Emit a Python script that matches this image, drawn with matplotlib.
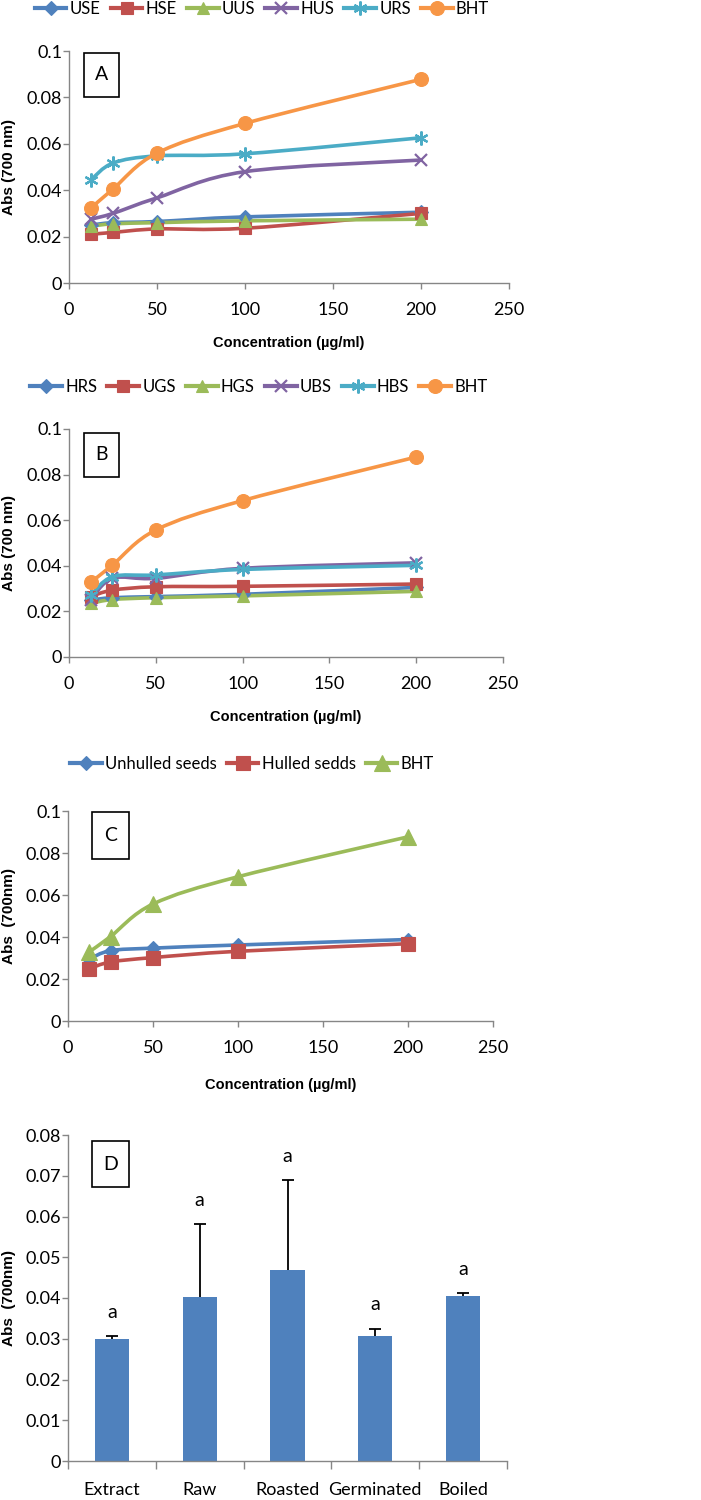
import numpy as np
import matplotlib
matplotlib.use('Agg')
import matplotlib.pyplot as plt
from matplotlib.path import Path
from matplotlib.patches import PathPatch, Rectangle
from matplotlib.lines import Line2D

# ---- data ----
conc = [12.5, 25, 50, 100, 200]

# panel A
use = [0.0250, 0.0260, 0.0265, 0.0285, 0.0305]
hse = [0.0210, 0.0218, 0.0233, 0.0236, 0.0300]
uus = [0.0245, 0.0255, 0.0260, 0.0268, 0.0275]
hus = [0.0275, 0.0300, 0.0367, 0.0480, 0.0530]
urs = [0.0445, 0.0517, 0.0548, 0.0557, 0.0626]
bht = [0.0323, 0.0405, 0.0560, 0.0688, 0.0878]

# panel B
hrs = [0.0250, 0.0260, 0.0265, 0.0275, 0.0305]
ugs = [0.0265, 0.0293, 0.0308, 0.0310, 0.0320]
hgs = [0.0235, 0.0252, 0.0260, 0.0268, 0.0288]
ubs = [0.0250, 0.0345, 0.0345, 0.0389, 0.0413]
hbs = [0.0270, 0.0352, 0.0360, 0.0384, 0.0402]
bht_b = [0.0327, 0.0403, 0.0557, 0.0686, 0.0877]

# panel C
unhulled = [0.0295, 0.0335, 0.0347, 0.0362, 0.0388]
hulled = [0.0249, 0.0281, 0.0302, 0.0332, 0.0368]
bht_c = [0.0329, 0.0402, 0.0557, 0.0687, 0.0877]

# panel D
treatments = ['Extract', 'Raw', 'Roasted', 'Germinated', 'Boiled']
means = [0.0299, 0.0402, 0.0469, 0.0307, 0.0404]
errs = [0.0008, 0.0180, 0.0221, 0.0018, 0.0008]
letters = ['a', 'a', 'a', 'a', 'a']

# ---- style ----
W, H = 701, 1500
BLUE, RED, GREEN, PURPLE, AQUA, ORANGE = '#4F81BD', '#C0504D', '#9BBB59', '#8064A2', '#4BACC6', '#F79646'
NARROW = ['Liberation Sans Narrow', 'Lato', 'DejaVu Sans']
BOLDF = ['Liberation Sans', 'DejaVu Sans']
AXC = '#868686'
ASTER = (6, 2, 0)

fig = plt.figure(figsize=(W / 100, H / 100), dpi=100)


def px_axes(x0, x1, ytop, ybot):
    return fig.add_axes([x0 / W, 1 - ybot / H, (x1 - x0) / W, (ybot - ytop) / H])


def smooth(ax, x, y, color, lw=2.6):
    # excel style smoothed line (bezier through the points)
    n = len(x)
    verts = [(x[0], y[0])]
    codes = [Path.MOVETO]
    for i in range(n - 1):
        a = i - 1 if i > 0 else i
        d = i + 2 if i + 2 < n else i + 1
        c1 = (x[i] + (x[i + 1] - x[a]) / 6, y[i] + (y[i + 1] - y[a]) / 6)
        c2 = (x[i + 1] - (x[d] - x[i]) / 6, y[i + 1] - (y[d] - y[i]) / 6)
        verts += [c1, c2, (x[i + 1], y[i + 1])]
        codes += [Path.CURVE4] * 3
    ax.add_patch(PathPatch(Path(verts, codes), fill=False, edgecolor=color, lw=lw,
                           capstyle='round', joinstyle='round', zorder=2))


def style_axes(ax, ylim, ystep):
    for s in ['top', 'right']:
        ax.spines[s].set_visible(False)
    for s in ['left', 'bottom']:
        ax.spines[s].set_color(AXC)
        ax.spines[s].set_linewidth(1.0)
    ax.tick_params(colors=AXC, length=4, width=1.0, labelcolor='black', labelsize=13)
    ax.tick_params(axis='y', pad=1)
    ax.tick_params(axis='x', pad=10)
    ax.set_ylim(*ylim)
    ax.set_yticks(np.arange(ylim[0], ylim[1] + ystep / 2, ystep))
    for lab in ax.get_xticklabels() + ax.get_yticklabels():
        lab.set_family(NARROW)


def panel_box(text, x0, x1, y0, y1):
    fig.add_artist(Rectangle((x0 / W, 1 - y1 / H), (x1 - x0) / W, (y1 - y0) / H,
                             transform=fig.transFigure, fill=False, edgecolor='black', lw=1.2))
    fig.text((x0 + x1) / 2 / W, 1 - (y0 + y1) / 2 / H, text, ha='center', va='center',
             family=NARROW, fontsize=14)


def line_panel(ax, series, labels, colors, markers, msizes, leg_xy, ylab, xlab_y, ylab_x):
    for ys, c, m, ms in zip(series, colors, markers, msizes):
        smooth(ax, conc, ys, c)
        ax.plot(conc, ys, linestyle='none', marker=m, color=c, markersize=ms,
                markeredgecolor=c, markeredgewidth=1.6 if m in ('x', ASTER) else 0.8, zorder=3)
    ax.set_xlim(0, 250)
    ax.set_xticks([0, 50, 100, 150, 200, 250])
    style_axes(ax, (0, 0.1), 0.02)
    ax.set_yticklabels(['0', '0.02', '0.04', '0.06', '0.08', '0.1'], family=NARROW)
    handles = [Line2D([], [], color=c, lw=3, marker=m, markersize=ms,
                      markeredgecolor=c, markeredgewidth=1.6 if m in ('x', ASTER) else 0.8)
               for c, m, ms in zip(colors, markers, msizes)]
    fig.legend(handles, labels, loc='center', bbox_to_anchor=(leg_xy[0] / W, 1 - leg_xy[1] / H),
               ncol=len(labels), frameon=False, prop={'family': NARROW, 'size': 12},
               handlelength=1.9, handletextpad=0.2, columnspacing=0.6, borderaxespad=0)
    ax.set_xlabel('Concentration (\u00b5g/ml)', family=BOLDF, fontsize=10.5, fontweight='bold')
    ax.xaxis.set_label_coords(0.5, xlab_y)
    ax.xaxis.label.set_va('center')
    ax.set_ylabel(ylab, family=BOLDF, fontsize=11, fontweight='bold')
    ax.yaxis.set_label_coords(ylab_x, 0.5)
    ax.yaxis.label.set_va('center')


# panel A
axA = px_axes(69, 509, 51, 283)
line_panel(axA, [use, hse, uus, hus, urs, bht], ['USE', 'HSE', 'UUS', 'HUS', 'URS', 'BHT'],
           [BLUE, RED, GREEN, PURPLE, AQUA, ORANGE], ['D', 's', '^', 'x', ASTER, 'o'],
           [7, 8, 9, 9, 10, 10], (262, 9), 'Abs (700 nm)', -(343 - 283) / 232, -(69 - 9) / 440)
panel_box('A', 84, 119, 53, 97)

# panel B
axB = px_axes(69, 503, 429, 657)
line_panel(axB, [hrs, ugs, hgs, ubs, hbs, bht_b], ['HRS', 'UGS', 'HGS', 'UBS', 'HBS', 'BHT'],
           [BLUE, RED, GREEN, PURPLE, AQUA, ORANGE], ['D', 's', '^', 'x', ASTER, 'o'],
           [7, 8, 9, 9, 10, 10], (259, 387), 'Abs (700 nm)', -(717 - 657) / 228, -(69 - 9) / 434)
panel_box('B', 84, 119, 433, 477)

# panel C
axC = px_axes(68, 493, 811, 1021)
line_panel(axC, [unhulled, hulled, bht_c], ['Unhulled seeds', 'Hulled sedds', 'BHT'],
           [BLUE, RED, GREEN], ['D', 's', '^'], [7, 10, 11],
           (252, 764), 'Abs  (700nm)', -(1085 - 1021) / 210, -(68 - 9) / 425)
panel_box('C', 92, 129, 812, 859)

# panel D
axD = px_axes(68, 507, 1135, 1461)
pos = list(range(len(treatments)))
axD.bar(pos, means, width=0.39, color=BLUE, zorder=2)
# error bars drawn behind the bars so only the upper half shows
axD.errorbar(pos, means, yerr=errs, fmt='none', ecolor='black',
             elinewidth=1.3, capsize=4, capthick=1.3, zorder=1)
for p, m, e, l in zip(pos, means, errs, letters):
    axD.text(p, m + e + 0.0058, l, ha='center', va='center', family=NARROW, fontsize=14)
axD.set_xlim(-0.5, len(treatments) - 0.5)
style_axes(axD, (0, 0.08), 0.01)
axD.set_yticklabels(['0', '0.01', '0.02', '0.03', '0.04', '0.05', '0.06', '0.07', '0.08'], family=NARROW)
axD.set_xticks([p - 0.5 for p in pos] + [len(treatments) - 0.5])
axD.set_xticklabels([])
axD.tick_params(axis='x', length=6)
axD.set_xticks(pos, minor=True)
axD.set_xticklabels(treatments, minor=True, family=NARROW, fontsize=13)
axD.tick_params(axis='x', which='minor', length=0, pad=15)
axD.set_ylabel('Abs  (700nm)', family=BOLDF, fontsize=11, fontweight='bold')
axD.yaxis.set_label_coords(-(68 - 9) / 439, 0.5)
axD.yaxis.label.set_va('center')
panel_box('D', 92, 129, 1141, 1187)

fig.savefig('out.png', dpi=100)
